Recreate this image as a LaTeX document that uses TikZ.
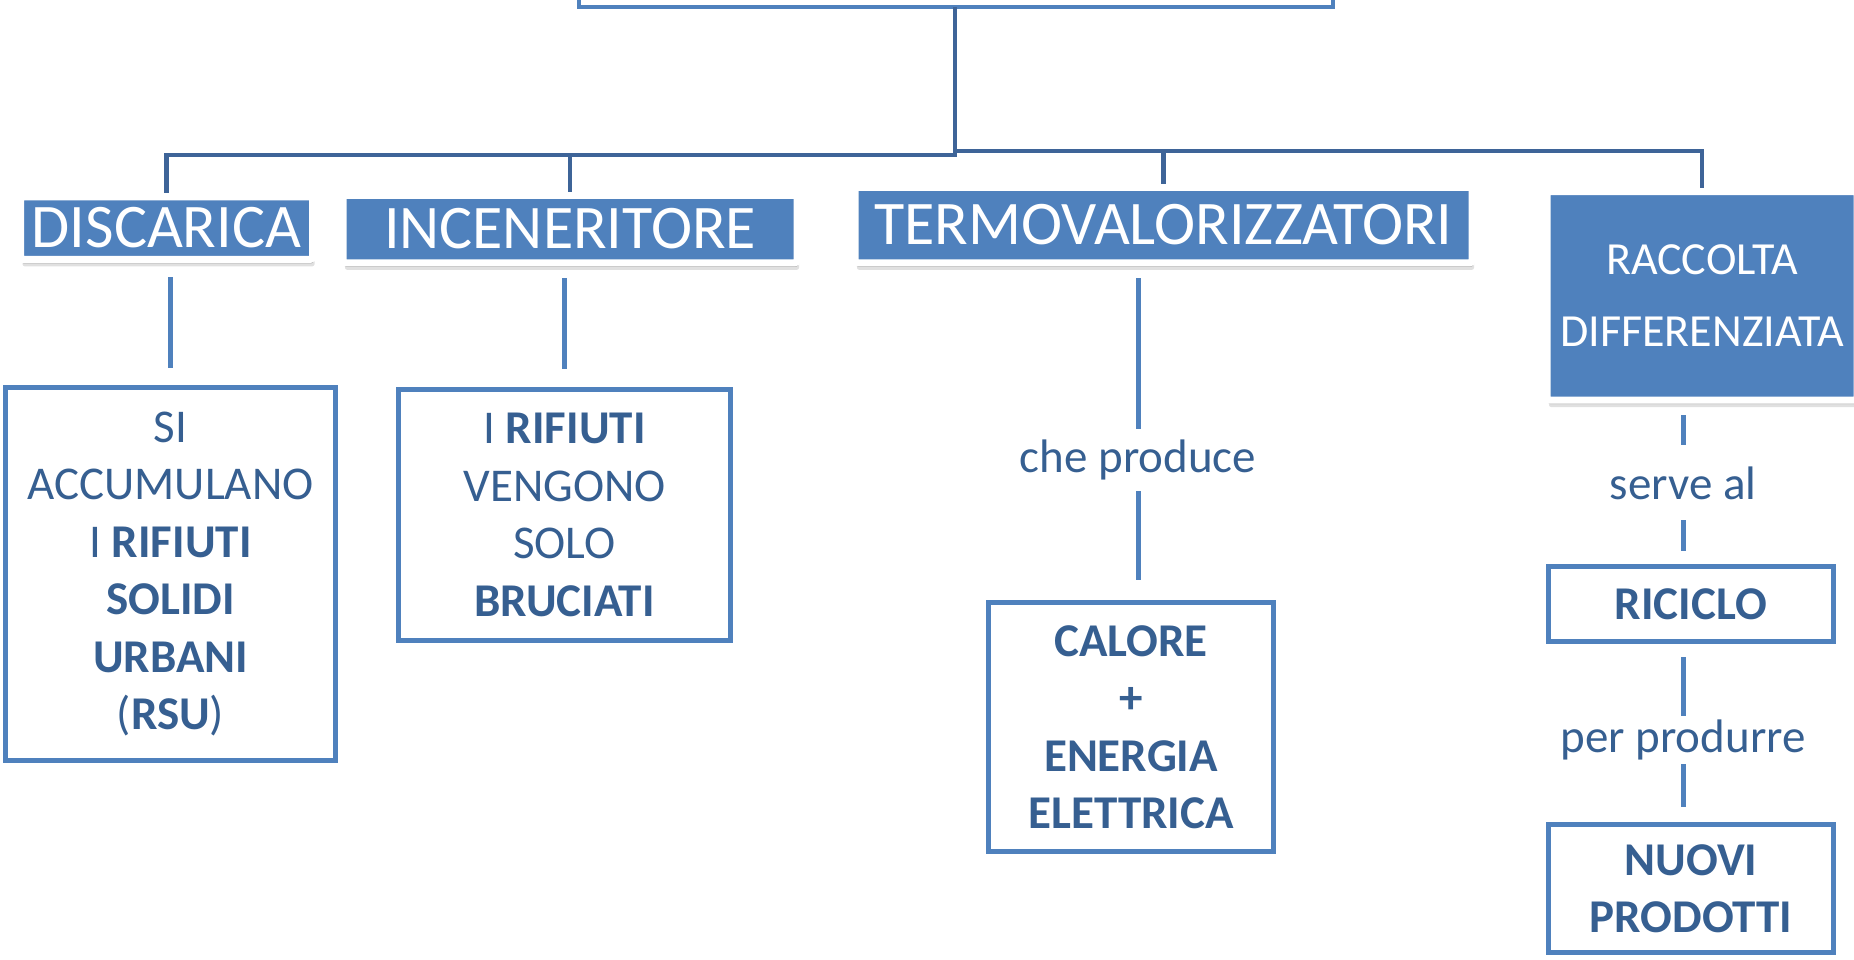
\documentclass[tikz,border=0pt]{standalone}
\usepackage{fontspec}
\setmainfont{Carlito}
\usetikzlibrary{shadows}
\definecolor{boxblue}{RGB}{79,129,189}
\definecolor{busblue}{RGB}{62,100,152}
\definecolor{txtblue}{RGB}{54,95,145}
\begin{document}
\begin{tikzpicture}[x=1pt,y=-1pt,
    head/.style={fill=boxblue,draw=white,line width=7pt,text=white,inner sep=0pt,outer sep=3.5pt,
      rounded corners=2pt,
      drop shadow={shadow xshift=2pt,shadow yshift=-7pt,opacity=.12,fill=black},
      drop shadow={shadow xshift=1pt,shadow yshift=-4pt,opacity=.22,fill=black},
      font=\fontsize{62}{74}\selectfont},
    leaf/.style={draw=boxblue,fill=white,line width=5pt,text=txtblue,align=center,inner sep=0pt,
      outer sep=0pt,font=\fontsize{47}{57.5}\selectfont},
    lbl/.style={text=txtblue,inner sep=0pt,text height=33pt,text depth=10pt,
      font=\fontsize{47}{56}\selectfont},
    link/.style={boxblue,line width=5pt},
    bus/.style={busblue,line width=4.5pt}]
    \useasboundingbox (0,0) rectangle (1854,959);
    \node[draw=boxblue,line width=4.5pt,minimum width=754pt,minimum height=74pt,inner sep=0pt,outer sep=0pt] (top) at (956,-30) {};
    \node[head,minimum width=292pt,minimum height=62.5pt] (disc) at (166.5,228) {DISCARICA};
    \node[head,minimum width=454pt,minimum height=67.5pt] (inc) at (570,229) {INCENERITORE};
    \node[head,minimum width=617pt,minimum height=75.5pt] (termo) at (1163.5,225) {TERMOVALORIZZATORI};
    \node[head,minimum width=310pt,minimum height=208.5pt,align=center,font=\fontsize{46}{72}\selectfont] (rac) at (1702,295.75) {RACCOLTA\\DIFFERENZIATA};
    \node[leaf,minimum width=330pt,minimum height=373pt] (disclf) at (170.5,574) {SI\\ACCUMULANO\\I \textbf{RIFIUTI}\\\textbf{SOLIDI}\\\textbf{URBANI}\\(\textbf{RSU})};
    \node[leaf,minimum width=332pt,minimum height=251pt] (inclf) at (564.5,515) {I \textbf{RIFIUTI}\\VENGONO\\SOLO\\\textbf{BRUCIATI}};
    \node[leaf,minimum width=285pt,minimum height=249pt] (energy) at (1131,727) {\textbf{CALORE}\\\textbf{+}\\\textbf{ENERGIA}\\\textbf{ELETTRICA}};
    \node[leaf,minimum width=285pt,minimum height=75pt] (ric) at (1691,604) {\textbf{RICICLO}};
    \node[leaf,minimum width=285pt,minimum height=128pt] (nuovi) at (1691,888.5) {\textbf{NUOVI}\\\textbf{PRODOTTI}};
    \node[lbl,anchor=base] (che) at (1138,472) {che produce};
    \node[lbl,anchor=base] (serve) at (1683,499) {serve al};
    \node[lbl,anchor=base] (per) at (1683,752) {per produrre};
    \coordinate (busl) at (955,155);
    \coordinate (busr) at (955,151);
    \draw[bus] (top.south -| busl) -- (busl) -| (disc.north);
    \draw[bus] (busl -| inc.north) -- (inc.north);
    \draw[bus] (busr) -| (rac.north);
    \draw[bus] (busr -| termo.north) -- (termo.north);
    \draw[link,shorten <=14.25pt,shorten >=19.5pt] (disc.south -| disclf.north) -- (disclf.north);
    \draw[link,shorten <=11.75pt,shorten >=20.5pt] (inc.south -| inclf.north) -- (inclf.north);
    \draw[link,shorten <=11.75pt,shorten >=10pt] (termo.south -| che.north) -- (che.north);
    \draw[link,shorten <=9pt,shorten >=22.5pt] (che.south) -- (che.south |- energy.north);
    \draw[link,shorten <=11.5pt,shorten >=21pt] (rac.south -| serve.north) -- (serve.north);
    \draw[link,shorten <=11pt,shorten >=15.5pt] (serve.south) -- (serve.south |- ric.north);
    \draw[link,shorten <=15.5pt,shorten >=3pt] (ric.south -| per.north) -- (per.north);
    \draw[link,shorten <=2pt,shorten >=17.5pt] (per.south) -- (per.south |- nuovi.north);
\end{tikzpicture}
\end{document}
